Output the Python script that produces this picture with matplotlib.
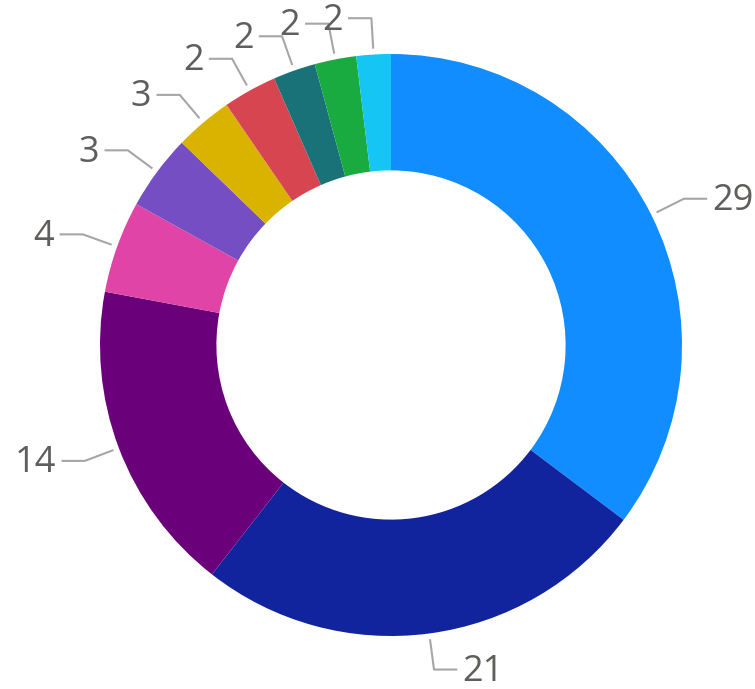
import numpy as np
import matplotlib.pyplot as plt

# slice values (labels show the rounded numbers)
values = [29.0, 20.8, 14.3, 4.2, 3.45, 2.64, 2.45, 1.94, 1.9, 1.57]
labels = ['29', '21', '14', '4', '3', '3', '2', '2', '2', '2']
colors = ['#118DFF', '#12239E', '#6B007B', '#E044A7', '#744EC2',
          '#D9B300', '#D64550', '#197278', '#1AAB40', '#15C6F4']

W, H = 755, 689
cx, cy, R = 391, 345, 291

fig = plt.figure(figsize=(W / 100, H / 100), dpi=100)
ax = fig.add_axes([0, 0, 1, 1])
ax.axis('off')

wedges, _ = ax.pie(values, colors=colors, startangle=90, counterclock=False,
                   radius=1, wedgeprops=dict(width=0.4, linewidth=0))
ax.set_xlim(-cx / R, (W - cx) / R)
ax.set_ylim(-(H - cy) / R, cy / R)

for w, lab in zip(wedges, labels):
    ang = np.deg2rad((w.theta1 + w.theta2) / 2)
    x0, y0 = 1.02 * np.cos(ang), 1.02 * np.sin(ang)
    x1, y1 = 1.125 * np.cos(ang), 1.125 * np.sin(ang)
    side = 1 if np.cos(ang) >= 0 else -1
    x2 = x1 + side * 0.08
    ax.plot([x0, x1, x2], [y0, y1, y1], color='#A6A6A6', lw=1.5,
            solid_capstyle='butt')
    ax.text(x2 + side * 0.018, y1 - 0.008, lab,
            ha='left' if side > 0 else 'right', va='center',
            fontsize=26, color='#605E5C', family='Open Sans')

fig.savefig('out.png', dpi=100)
